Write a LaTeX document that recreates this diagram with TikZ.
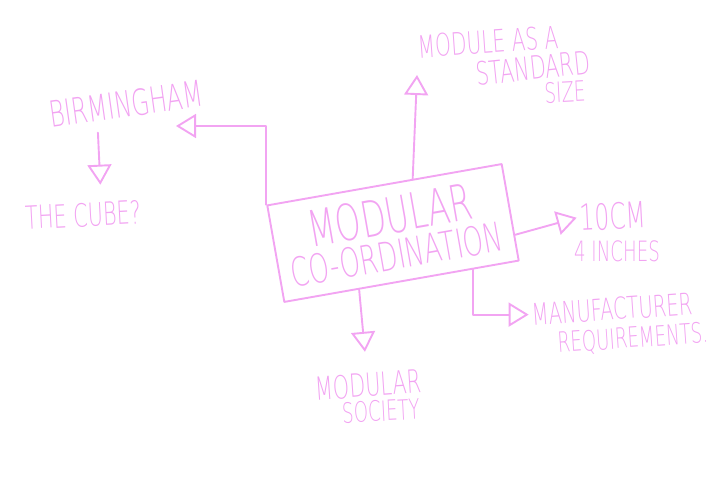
\documentclass[tikz,border=0pt]{standalone}
\usepackage{fontspec}
\newfontfamily\sketchfont[FakeStretch=0.65]{DejaVu Sans ExtraLight}
\usetikzlibrary{arrows.meta,calc}
\definecolor{marker}{RGB}{242,164,242}

\begin{document}
\begin{tikzpicture}[x=1pt, y=1pt,
  pen/.style={draw=marker, line width=1.9pt, line cap=round, line join=round},
  arr/.style={pen, -{Triangle[open, length=20pt, width=24pt]}},
  note/.style={text=marker, inner sep=0pt}]
\useasboundingbox (0,0) rectangle (710,501);
\node[pen, note, rotate=10, minimum width=238pt, minimum height=98pt, align=center,
  font=\sketchfont\fontsize{40}{36}\selectfont] (box) at (393,268)
  {{\fontsize{50}{36}\selectfont MODULAR}\\CO-ORDINATION};
\node[note, rotate=4, font=\sketchfont\fontsize{31}{33}\selectfont] (mod1) at (488,459) {MODULE AS A};
\node[note, rotate=6, font=\sketchfont\fontsize{32}{34}\selectfont] (mod2) at (533,433) {STANDARD};
\node[note, rotate=3, font=\sketchfont\fontsize{28}{30}\selectfont] (mod3) at (565,409) {SIZE};
\node[note, rotate=8, font=\sketchfont\fontsize{36}{38}\selectfont] (birm) at (126,397) {BIRMINGHAM};
\node[note, rotate=3, font=\sketchfont\fontsize{32}{34}\selectfont] (cube) at (83,286) {THE CUBE?};
\node[note, rotate=3, font=\sketchfont\fontsize{36}{38}\selectfont] (ten) at (613,285) {10CM};
\node[note, font=\sketchfont\fontsize{28}{30}\selectfont] (inch) at (617,250) {4 INCHES};
\node[note, rotate=4, font=\sketchfont\fontsize{30}{32}\selectfont] (manu) at (612,192) {MANUFACTURER};
\node[note, rotate=4, font=\sketchfont\fontsize{28}{30}\selectfont] (req) at (633,162) {REQUIREMENTS.};
\node[note, rotate=4, font=\sketchfont\fontsize{32}{34}\selectfont] (soc1) at (368,116) {MODULAR};
\node[note, rotate=3, font=\sketchfont\fontsize{28}{30}\selectfont] (soc2) at (381,90) {SOCIETY};
\coordinate (upTip) at (417,426);
\coordinate (leftTip) at (176,375);
\coordinate (up0) at ($(box.north west)!0.62!(box.north east)$);
\coordinate (right0) at ($(box.north east)!0.73!(box.south east)$);
\coordinate (down0) at ($(box.south west)!0.32!(box.south east)$);
\coordinate (down1) at ($(box.south west)!0.80!(box.south east)$);
\draw[arr] (up0) -- (upTip);
\draw[arr] (box.north west) |- (leftTip);
\draw[arr] ([xshift=-30pt,yshift=-15pt]birm.south) -- ([xshift=18pt,yshift=18pt]cube.north);
\draw[arr] (right0) -- ([xshift=-3pt]ten.west);
\draw[arr] (down1) |- ([xshift=-3pt]manu.west);
\draw[arr, shorten >=21pt] (down0) -- (soc1);
\end{tikzpicture}
\end{document}
